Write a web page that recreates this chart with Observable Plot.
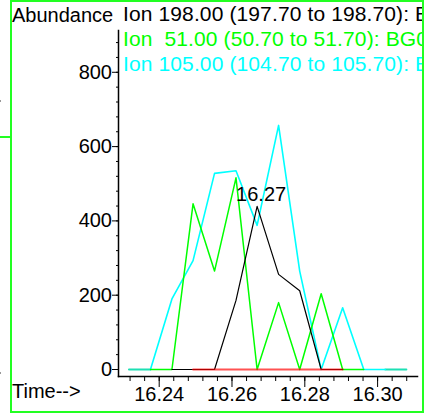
<!DOCTYPE html>
<html><head><meta charset="utf-8">
<script src="https://cdn.jsdelivr.net/npm/d3@7"></script>
<script src="https://cdn.jsdelivr.net/npm/@observablehq/plot@0.6"></script>
<style>
html,body{margin:0;padding:0;background:#fff;}
#wrap{position:relative;width:427px;height:415px;overflow:hidden;font-family:'Liberation Sans',Arial,sans-serif;background:#fff;}
#wrap svg{position:absolute;left:0;top:0;}
.frame{position:absolute;left:10px;top:0;width:414px;height:413px;box-sizing:border-box;border:2px solid #2f2;}
.clip{position:absolute;left:12px;top:2px;width:410px;height:409px;overflow:hidden;}
.t{position:absolute;font-size:20px;line-height:20px;white-space:pre;color:#000;}
.lg{font-size:21px;letter-spacing:0.12px;}
.deco{position:absolute;}
</style>
</head><body>
<div id="wrap"></div>
<script>
// Retention times (min) of the scans
const times = [16.2317, 16.2376, 16.2435, 16.2493, 16.2552, 16.2611, 16.2669, 16.2728, 16.2786, 16.2845, 16.2904, 16.2962, 16.3021, 16.3079];
// Abundances per ion trace (NaN = trace not drawn at that scan)
const ion198 = [NaN, NaN, 0, 0, 0, 186, 439, 256, 212, 0, 0, NaN, NaN, NaN];
const ion51  = [NaN, 0, 0, 446, 265, 516, 0, 180, 0, 204, 0, 0, NaN, NaN];
const ion105 = [NaN, 0, 190, 293, 528, 535, 388, 657, 265, 0, 166, 0, 0, NaN];
const ionRed = [NaN, NaN, NaN, 0, 0, 0, 0, 0, 0, 0, 0, NaN, NaN, NaN];
const ionTeal = [0, 0, NaN, NaN, NaN, NaN, NaN, NaN, NaN, NaN, NaN, NaN, 0, 0];
// Legend / labels
const legendLines = [
  "Ion 198.00 (197.70 to 198.70): BG01.D\\DATA.MS",
  "Ion  51.00 (50.70 to 51.70): BG01.D\\DATA.MS",
  "Ion 105.00 (104.70 to 105.70): BG01.D\\DATA.MS"
];
const legendColors = ["#000", "#0f0", "#0ff"];
const yLabel = "Abundance";
const xLabel = "Time-->";
// Ticks
const yMajor = [0, 200, 400, 600, 800];
const yMinor = [0, 40, 80, 120, 160, 200, 240, 280, 320, 360, 400, 440, 480, 520, 560, 600, 640, 680, 720, 760, 800, 840, 880];
const xMajor = [16.24, 16.26, 16.28, 16.30];
const xMinor = [16.232, 16.236, 16.24, 16.244, 16.248, 16.252, 16.256, 16.26, 16.264, 16.268, 16.272, 16.276, 16.28, 16.284, 16.288, 16.292, 16.296, 16.3, 16.304, 16.308];

const rows = vals => times.map((t, i) => ({t, v: vals[i]}));
const font = "'Liberation Sans', Arial, sans-serif";

const svg = Plot.plot({
  width: 427, height: 415,
  marginLeft: 118, marginRight: 10, marginTop: 30, marginBottom: 39,
  x: {domain: [16.22882, 16.31096]},
  y: {domain: [-18.84, 912.5]},
  style: {fontFamily: font, fontSize: "20px", background: "transparent", color: "#000"},
  marks: [
    Plot.line(rows(ionTeal), {x: "t", y: "v", stroke: "#1de0b4", strokeWidth: 2}),
    Plot.line(rows(ion105), {x: "t", y: "v", stroke: "#00ffff", strokeWidth: 1.6}),
    Plot.line(rows(ion51), {x: "t", y: "v", stroke: "#00ff00", strokeWidth: 1.5}),
    Plot.line(rows(ion198), {x: "t", y: "v", stroke: "#000", strokeWidth: 1.2}),
    Plot.line(rows(ionRed), {x: "t", y: "v", stroke: "#ff0000", strokeWidth: 2, strokeOpacity: 0.68}),
    Plot.text(rows(ion198).filter(d => !isNaN(d.v)), Plot.selectMaxY({x: "t", y: "v", text: d => d.t.toFixed(2), dx: 4, dy: -5, lineAnchor: "bottom", fontSize: 20, fill: "#000"})),
    Plot.frame({anchor: "left", strokeWidth: 1.5}),
    Plot.frame({anchor: "bottom", strokeWidth: 1.5}),
    Plot.axisY({ticks: yMajor, tickSize: 6, tickPadding: 0.5, label: null, tickFormat: d => String(d), fontSize: 20}),
    Plot.axisY({ticks: yMinor, tickSize: 2, text: null, label: null}),
    Plot.axisX({ticks: xMinor, tickSize: 5, text: null, label: null}),
    Plot.axisX({ticks: xMajor, tickSize: 11, text: null, label: null}),
    Plot.axisX({ticks: xMajor, tickSize: 0, tickPadding: 9.8, label: null, tickFormat: d => d.toFixed(2), fontSize: 20})
  ]
});

const wrap = document.getElementById("wrap");
wrap.appendChild(svg);

function div(cls, css, text) {
  const d = document.createElement("div");
  d.className = cls;
  d.style.cssText = css;
  if (text != null) d.textContent = text;
  return d;
}
wrap.appendChild(div("deco", "left:0;top:136px;width:10px;height:2px;background:#2f2;"));
wrap.appendChild(div("deco", "left:0;top:100px;width:1px;height:2px;background:#999;"));
wrap.appendChild(div("deco", "left:0;top:372px;width:1px;height:2px;background:#999;"));
wrap.appendChild(div("frame", ""));
const clip = div("clip", "");
wrap.appendChild(clip);
clip.appendChild(div("t", "left:0;top:2.7px;", yLabel));
legendLines.forEach((s, i) => {
  clip.appendChild(div("t lg", `left:111px;top:${2.3 + 25 * i}px;color:${legendColors[i]};`, s));
});
clip.appendChild(div("t", "left:0;top:378.7px;", xLabel));
</script>
</body></html>
